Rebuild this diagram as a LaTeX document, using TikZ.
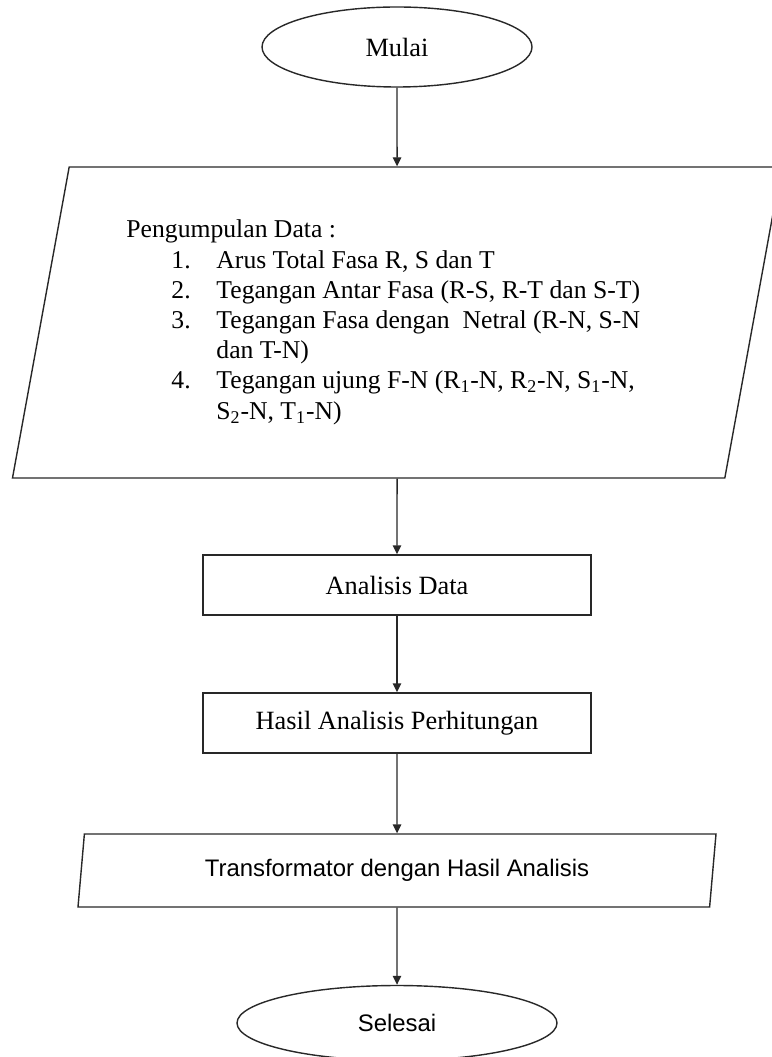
\documentclass[tikz,border=0pt]{standalone}
\usepackage{fontspec}
\setmainfont{Liberation Serif}
\setsansfont{Liberation Sans}
\usepackage{tikz}
\usetikzlibrary{positioning,arrows.meta,shapes.geometric,calc}
\definecolor{ink}{RGB}{40,40,40}
\tikzset{
  term/.style={draw=ink, ellipse, line width=0.8pt, inner sep=0pt, minimum width=#1, minimum height=1.5cm},
  term/.default={5.3cm},
  io/.style={draw=ink, trapezium, trapezium left angle=#1, trapezium right angle=180-#1, trapezium stretches body, line width=0.8pt, inner sep=0pt},
  io/.default={75},
  proc/.style={draw=ink, rectangle, line width=0.8pt, minimum width=7.76cm, minimum height=1.2cm, font=\fontsize{15pt}{18pt}\selectfont},
  arrow/.style={-{Triangle[length=0.18cm, width=0.17cm]}, line width=0.8pt, draw=ink}
}

\begin{document}
\begin{tikzpicture}
        \useasboundingbox (0,0) rectangle (15.42,-21.14);
        \node[term={5.4cm}, minimum height=1.6cm, font=\fontsize{15pt}{18pt}\selectfont] (mulai) at (7.94,-0.94) {Mulai};
        \node[io=75, minimum width=15.38cm, minimum height=6.22cm] (data) at (7.94,-6.45) {%
          \fontsize{14.6pt}{17.2pt}\selectfont
          \begin{tabular}{@{}p{0.9cm}@{}p{0.9cm}@{}l@{}}
            \multicolumn{3}{@{}l@{}}{Pengumpulan Data :}\\
             & 1. & Arus Total Fasa R, S dan T\\
             & 2. & Tegangan Antar Fasa (R-S, R-T dan S-T)\\
             & 3. & Tegangan Fasa dengan\ \ Netral (R-N, S-N\\
             &    & dan T-N)\\
             & 4. & Tegangan ujung F-N (R\textsubscript{1}-N, R\textsubscript{2}-N, S\textsubscript{1}-N,\\
             &    & S\textsubscript{2}-N, T\textsubscript{1}-N)
          \end{tabular}\hspace*{0.55cm}};
        \node[proc] (analisis) at (7.94,-11.7) {Analisis Data};
        \node[proc] (hasil) at (7.94,-14.46) {Hasil Analisis Perhitungan};
        \node[io=74, minimum width=12.76cm, minimum height=1.46cm, font=\sffamily\fontsize{13.6pt}{16pt}\selectfont] (trafo) at (7.94,-17.41) {Transformator dengan Hasil Analisis};
        \node[term={6.4cm}, minimum height=1.5cm, font=\sffamily\fontsize{13.6pt}{16pt}\selectfont] (selesai) at (7.94,-20.46) {Selesai};
        \draw[arrow] (mulai) -- (data);
        \draw[arrow] (data) -- (analisis);
        \draw[arrow] (analisis) -- (hasil);
        \draw[arrow] (hasil) -- (trafo);
        \draw[arrow] (trafo) -- (selesai);
      \end{tikzpicture}
\end{document}
